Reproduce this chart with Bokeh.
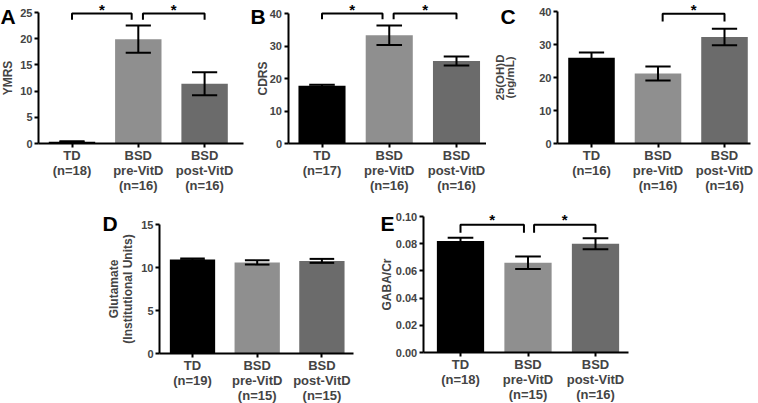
from bokeh.plotting import figure
from bokeh.layouts import row, column
from bokeh.models import Range1d, FixedTicker, Label, ColumnDataSource, NumeralTickFormatter
from bokeh.embed import file_html
from bokeh.resources import INLINE
from bokeh.core.properties import value

# ---------------- data ----------------
groups = ["TD", "BSD\npre-VitD", "BSD\npost-VitD"]

A_n = [18, 16, 16]
A_mean = [0.35, 19.9, 11.4]
A_sem = [0.1, 2.6, 2.2]
A_ticks = [0, 5, 10, 15, 20, 25]
A_pairs = [(0, 1), (1, 2)]

B_n = [17, 16, 16]
B_mean = [17.8, 33.3, 25.4]
B_sem = [0.3, 3.0, 1.4]
B_ticks = [0, 10, 20, 30, 40]
B_pairs = [(0, 1), (1, 2)]

C_n = [16, 16, 16]
C_mean = [26.0, 21.2, 32.3]
C_sem = [1.6, 2.1, 2.5]
C_ticks = [0, 10, 20, 30, 40]
C_pairs = [(1, 2)]

D_n = [19, 15, 15]
D_mean = [10.95, 10.6, 10.78]
D_sem = [0.1, 0.25, 0.23]
D_ticks = [0, 5, 10, 15]
D_pairs = []

E_n = [18, 15, 16]
E_mean = [0.082, 0.066, 0.080]
E_sem = [0.0024, 0.0046, 0.004]
E_ticks = [0.00, 0.02, 0.04, 0.06, 0.08, 0.10]
E_pairs = [(0, 1), (1, 2)]

# ---------------- style ----------------
BAR_COLORS = ["#000000", "#8f8f8f", "#6b6b6b"]
FONT = "Liberation Sans"


def panel(letter, ylabel, n, mean, sem, ticks, pairs, w, h, geom, bracket_y, star_y,
          gap_l, gap_r, letter_xy, label_standoff, fmt=None, label_lh=1.0, label_size="12px"):
    # geom: pixel layout inside the figure
    ax_l, ax_r, c0, sp, y0, top_px = geom
    ppu = (y0 - top_px) / ticks[-1]
    x_rng = Range1d((0 - c0) / sp, (w - c0) / sp)
    y_rng = Range1d(-(h - y0) / ppu, y0 / ppu)
    p = figure(width=w, height=h, output_backend="svg", toolbar_location=None,
               x_range=x_rng, y_range=y_rng,
               min_border_left=0, min_border_right=0, min_border_top=0, min_border_bottom=0)
    p.title.visible = False
    p.outline_line_color = None
    p.xgrid.grid_line_color = None
    p.ygrid.grid_line_color = None
    p.background_fill_color = "white"
    p.border_fill_color = "white"

    xs = list(range(len(groups)))
    src = ColumnDataSource(dict(x=xs, top=mean, color=BAR_COLORS))
    p.vbar(x="x", top="top", width=0.7, bottom=0, color="color", line_color=None, source=src)

    lo = [m - s for m, s in zip(mean, sem)]
    hi = [m + s for m, s in zip(mean, sem)]
    cw = 0.19
    p.segment(x0=xs, y0=lo, x1=xs, y1=hi, line_color="black", line_width=2)
    p.segment(x0=[x - cw for x in xs], y0=hi, x1=[x + cw for x in xs], y1=hi,
              line_color="black", line_width=2)
    p.segment(x0=[x - cw for x in xs], y0=lo, x1=[x + cw for x in xs], y1=lo,
              line_color="black", line_width=2)

    if pairs:
        leg, top = bracket_y
        bx, by, sx, sy = [], [], [], []
        for a, b in pairs:
            x0 = a + (gap_r if a == 1 else 0)
            x1 = b - (gap_l if b == 1 else 0)
            bx.append([x0, x0, x1, x1])
            by.append([leg, top, top, leg])
            sx.append((x0 + x1) / 2)
            sy.append(star_y)
        p.multi_line(xs=bx, ys=by, line_color="black", line_width=2)
        p.text(x=sx, y=sy, text=["*"] * len(sx), text_align="center", text_baseline="top",
               text_font=value(FONT), text_font_style="bold", text_font_size="15px",
               text_color="black")

    x_axis_at = (ax_l - c0) / sp
    yax = p.yaxis[0]
    yax.fixed_location = x_axis_at
    yax.ticker = FixedTicker(ticks=ticks)
    yax.bounds = (ticks[0], ticks[-1])
    yax.axis_label = ylabel
    yax.axis_label_text_font = FONT
    yax.axis_label_text_font_style = "bold"
    yax.axis_label_text_font_size = label_size
    yax.axis_label_text_line_height = label_lh
    yax.axis_label_standoff = label_standoff
    yax.major_label_text_font = FONT
    yax.major_label_text_font_style = "bold"
    yax.major_label_text_font_size = "11px"
    yax.major_label_standoff = 2
    yax.major_tick_out = 4
    yax.major_tick_in = 0
    yax.minor_tick_out = 0
    yax.minor_tick_in = 0
    yax.axis_line_width = 2
    yax.major_tick_line_width = 2
    if fmt:
        yax.formatter = NumeralTickFormatter(format=fmt)

    xax = p.xaxis[0]
    xax.fixed_location = 0
    xax.bounds = (x_axis_at, (ax_r - c0) / sp)
    xax.ticker = FixedTicker(ticks=xs)
    xax.major_label_overrides = {i: f"{g}\n(n={k})" for i, (g, k) in enumerate(zip(groups, n))}
    xax.major_label_text_font = FONT
    xax.major_label_text_font_style = "bold"
    xax.major_label_text_font_size = "13px"
    xax.major_label_text_line_height = 1.0
    xax.major_label_standoff = 0
    xax.major_tick_out = 4
    xax.major_tick_in = 0
    xax.minor_tick_out = 0
    xax.minor_tick_in = 0
    xax.axis_line_width = 2
    xax.major_tick_line_width = 2

    lx, ly = letter_xy
    lab = Label(x=lx, y=h - ly, x_units="screen", y_units="screen", text=letter)
    lab.text_font = FONT
    lab.text_font_style = "bold"
    lab.text_font_size = "21px"
    lab.text_baseline = "alphabetic"
    lab.text_align = "left"
    lab.text_color = "black"
    p.add_layout(lab)
    return p


# geom = (y-axis x, x-axis right end, first bar centre, bar spacing, zero y, top tick y)
pA = panel("A", "YMRS", A_n, A_mean, A_sem, A_ticks, A_pairs, 250, 200,
           (38, 243, 71.5, 66.3, 143, 12), (23.6, 24.8), 27.2, 0.1, 0.07, (0, 16), 2)
pB = panel("B", "CDRS", B_n, B_mean, B_sem, B_ticks, B_pairs, 236, 200,
           (37.5, 236, 71.5, 67.25, 143, 13), (38.2, 40.0), 43.8, 0.1, 0.065, (0, 16), -3)
pC = panel("C", "25(OH)D\n(ng/mL)", C_n, C_mean, C_sem, C_ticks, C_pairs, 272, 200,
           (71, 264, 105, 66.5, 143, 11), (37.0, 39.3), 43.2, 0.1, 0.07, (14, 16), 20,
           label_lh=0.85, label_size="11.5px")
pD = panel("D", "Glutamate\n(Institutional Units)", D_n, D_mean, D_sem, D_ticks, D_pairs, 372, 203,
           (159, 353, 192, 64.7, 153.3, 24), (0, 0), 0, 0.1, 0.07, (102, 23), 3)
pE = panel("E", "GABA/Cr", E_n, E_mean, E_sem, E_ticks, E_pairs, 386, 203,
           (50.7, 256, 88, 67.5, 152, 16), (0.088, 0.0939), 0.1044, 0.06, 0.09, (8, 23), -1,
           fmt="0.00")

layout = column(row(pA, pB, pC), row(pD, pE))

open("out.html", "w").write(file_html(layout, INLINE))
